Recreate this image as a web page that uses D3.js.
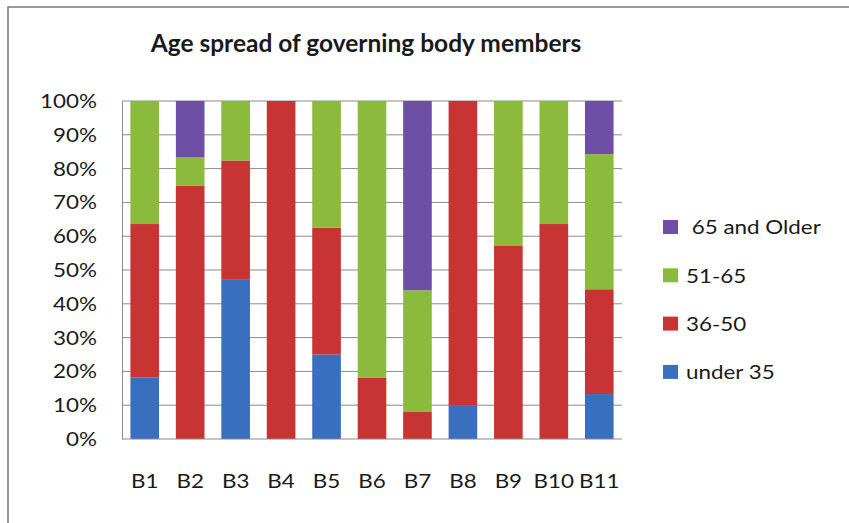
<!DOCTYPE html>
<html>
<head>
<meta charset="utf-8">
<script src="https://cdn.jsdelivr.net/npm/d3@7"></script>
<style>
  html, body { margin: 0; padding: 0; background: #fff; }
  svg { display: block; }
  text { font-family: Lato, "Open Sans", sans-serif; fill: #1a1a1a; }
</style>
</head>
<body>
<svg id="chart" width="849" height="523"></svg>
<script>
// Governing bodies and share of members (%) in each age band
const bodies = ["B1", "B2", "B3", "B4", "B5", "B6", "B7", "B8", "B9", "B10", "B11"];
const under35  = [18.2, 0,    47.1, 0,   25,   0,    0,  10, 0,    0,    13.3];
const age36to50 = [45.4, 75,   35.3, 100, 37.5, 18.2, 8,  90, 57.1, 63.6, 31];
const age51to65 = [36.4, 8.3,  17.6, 0,   37.5, 81.8, 36, 0,  42.9, 36.4, 40];
const over65   = [0,    16.7, 0,    0,   0,    0,    56, 0,  0,    0,    15.7];
const yTicks = [0, 10, 20, 30, 40, 50, 60, 70, 80, 90, 100];

const seriesNames = ["under 35", "36-50", "51-65", " 65 and Older"];
const seriesValues = [under35, age36to50, age51to65, over65];
const colors = ["#3a6fc0", "#c83333", "#8cba3c", "#6e4fa6"];

// Labels are drawn slightly widened horizontally
const SX = 1.12;
const FONT = 20;

const rows = bodies.map((b, i) => {
  const r = { body: b };
  seriesNames.forEach((s, k) => { r[s] = seriesValues[k][i]; });
  return r;
});
const stacked = d3.stack().keys(seriesNames)(rows);

const svg = d3.select("#chart");
const plot = { left: 122, right: 622, top: 101, bottom: 439 };

// Chart frame
svg.append("rect")
  .attr("x", 8).attr("y", 7)
  .attr("width", 900).attr("height", 600)
  .attr("fill", "none").attr("stroke", "#7a7a7a").attr("stroke-width", 1.5);

const x = d3.scaleBand().domain(bodies)
  .range([plot.left, plot.right])
  .paddingInner(0.37).paddingOuter(0.185);
const y = d3.scaleLinear().domain([0, 100]).range([plot.bottom, plot.top]);

// Horizontal gridlines
svg.append("g").selectAll("line").data(yTicks.slice(1)).join("line")
  .attr("x1", plot.left).attr("x2", plot.right)
  .attr("y1", d => y(d)).attr("y2", d => y(d))
  .attr("stroke", "#8a8a8a").attr("stroke-width", 1);

// Stacked bars
svg.append("g").selectAll("g").data(stacked).join("g")
  .attr("fill", (d, i) => colors[i])
  .selectAll("rect").data(d => d).join("rect")
  .attr("x", d => x(d.data.body))
  .attr("width", x.bandwidth())
  .attr("y", d => y(d[1]))
  .attr("height", d => y(d[0]) - y(d[1]));

// Y axis
const yPad = 25;
const yAxis = svg.append("g")
  .attr("transform", `translate(${plot.left},0)`)
  .call(d3.axisLeft(y).tickValues(yTicks).tickFormat(d => d + "%").tickSize(0).tickPadding(yPad));
yAxis.select(".domain").attr("stroke", "#8a8a8a");
yAxis.selectAll("text")
  .style("font-size", FONT + "px").attr("fill", "#1a1a1a")
  .attr("x", -yPad / SX).attr("transform", `scale(${SX},1)`);

// X axis
const xAxis = svg.append("g")
  .attr("transform", `translate(0,${plot.bottom})`)
  .call(d3.axisBottom(x).tickSize(0).tickPadding(35));
xAxis.select(".domain").attr("stroke", "#8a8a8a").attr("d", `M${plot.left},0H${plot.right}`);
xAxis.selectAll("text")
  .style("font-size", FONT + "px").attr("fill", "#1a1a1a")
  .attr("transform", `scale(${SX},1)`);

// Title
svg.append("text")
  .attr("x", 366).attr("y", 52)
  .attr("text-anchor", "middle")
  .style("font-size", "24.5px").style("font-weight", "bold")
  .text("Age spread of governing body members");

// Legend, oldest band on top
const legendOrder = [3, 2, 1, 0];
const legend = svg.append("g").selectAll("g").data(legendOrder).join("g")
  .attr("transform", (d, i) => `translate(663,${227 + i * 48.3})`);
legend.append("rect")
  .attr("x", 0).attr("y", -7).attr("width", 15).attr("height", 14)
  .attr("fill", d => colors[d]);
legend.append("text")
  .attr("x", 23 / SX).attr("y", 0).attr("dy", "0.36em")
  .attr("transform", `scale(${SX},1)`)
  .style("font-size", FONT + "px").style("white-space", "pre")
  .text(d => seriesNames[d]);
</script>
</body>
</html>
